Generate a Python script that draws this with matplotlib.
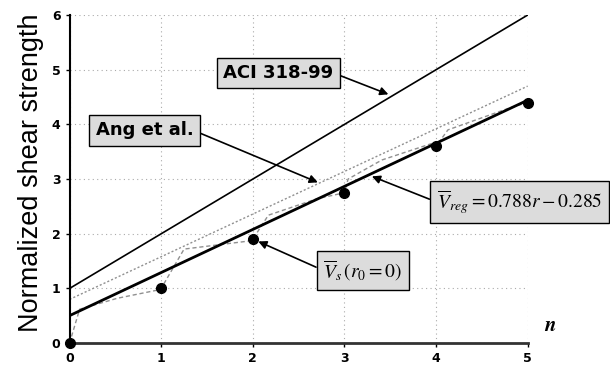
import matplotlib.pyplot as plt

plt.rcParams['mathtext.fontset'] = 'stix'

# story level n and the measured / fitted shear strengths
n_pts = [0, 1, 2, 3, 4, 5]
vs_pts = [0.0, 1.0, 1.9, 2.75, 3.6, 4.4]

aci_n = [0, 5]
aci_v = [1.0, 6.0]

ang_n = [0, 5]
ang_v = [0.8, 4.7]

# regression: V_reg = 0.788 r - 0.285 with r = n + 1
reg_slope = 0.788
reg_icpt = -0.285
reg_n = [0, 5]

vs_curve_n = [0, 0.11, 0.52, 0.96, 1.0, 1.25, 1.97, 2.0, 2.17, 2.7, 3.0, 3.04,
              3.25, 3.41, 3.97, 4.0, 4.13, 4.8, 5.0]
vs_curve_v = [0.0, 0.62, 0.82, 0.97, 1.0, 1.72, 1.87, 1.9, 2.34, 2.64, 2.75, 3.0,
              3.2, 3.35, 3.66, 3.6, 3.9, 4.3, 4.4]

fig = plt.figure(figsize=(6.1, 3.67), dpi=100)
ax = fig.add_axes([0.114, 0.065, 0.751, 0.894])

ax.plot(aci_n, aci_v, color='black', lw=1.2)
ax.plot(ang_n, ang_v, color='#909090', lw=1.0, ls=(0, (1.5, 1.5)))
ax.plot(vs_curve_n, vs_curve_v, color='#909090', lw=1.0, ls=(0, (3, 2)))
reg_v = [reg_slope * (x + 1) + reg_icpt for x in reg_n]
ax.plot(reg_n, reg_v, color='black', lw=2.0)
ax.plot(n_pts, vs_pts, 'o', color='black', ms=7, clip_on=False, zorder=5)

ax.set_xlim(0, 5)
ax.set_ylim(0, 6)
ax.set_xticks(range(6))
ax.set_yticks(range(7))
ax.grid(True, ls=(0, (1, 3)), color='#aaaaaa', lw=0.8)
for s in ('top', 'right'):
    ax.spines[s].set_visible(False)
ax.spines['left'].set_linewidth(1.5)
ax.spines['bottom'].set_linewidth(2.0)
ax.spines['bottom'].set_color('#333333')
ax.tick_params(labelsize=9, length=3, width=1)
for lab in ax.get_xticklabels() + ax.get_yticklabels():
    lab.set_fontweight('bold')

ax.set_ylabel('Normalized shear strength', fontsize=19.5, family='Liberation Sans')
ax.yaxis.set_label_coords(-0.056, 0.52)
ax.text(1.05, 0.055, r'$\boldsymbol{n}$', transform=ax.transAxes, fontsize=15,
        ha='center', va='center')

box = dict(boxstyle='square,pad=0.35', fc='#dcdcdc', ec='black', lw=1)
arrow = dict(arrowstyle='-|>', color='black', lw=1.2, mutation_scale=12,
             shrinkA=0, shrinkB=0)

ax.annotate('ACI 318-99', xy=(3.48, 4.55), xytext=(2.28, 4.94), fontsize=13,
            fontweight='bold', ha='center', va='center', bbox=box,
            arrowprops=dict(arrow, relpos=(1, 0.5)))
ax.annotate('Ang et al.', xy=(2.71, 2.94), xytext=(0.82, 3.89), fontsize=13,
            fontweight='bold', ha='center', va='center', bbox=box,
            arrowprops=dict(arrow, relpos=(1, 0.5)))

ax.annotate(r'$\overline{V}_{reg} = 0.788r - 0.285$', xy=(3.30, 3.05),
            xytext=(4.91, 2.58), fontsize=14, ha='center', va='center',
            bbox=box, annotation_clip=False,
            arrowprops=dict(arrow, relpos=(0, 0.5)))
ax.annotate(r'$\overline{V}_s\,(r_0 = 0)$', xy=(2.06, 1.86),
            xytext=(3.20, 1.33), fontsize=14, ha='center', va='center',
            bbox=box, arrowprops=dict(arrow, relpos=(0, 0.5)))

fig.savefig('out.png', dpi=100)
